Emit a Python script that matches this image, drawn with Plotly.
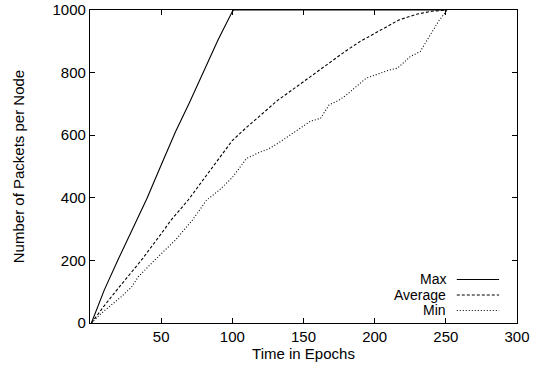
import plotly.graph_objects as go

# Data
max_x = [1, 10, 20, 30, 40, 50, 60, 70, 80, 90, 100, 101, 250]
max_y = [0, 105, 205, 300, 398, 505, 610, 705, 805, 905, 995, 1000, 1000]

avg_x = [1, 10, 20, 36, 50, 57, 69, 80, 90, 100, 110, 120, 132, 140, 150, 160,
         170, 180, 190, 204, 217, 230, 240, 251]
avg_y = [0, 55, 112, 200, 285, 329, 393, 460, 520, 583, 625, 665, 712, 738, 771, 805,
         838, 870, 900, 936, 968, 987, 996, 1000]

min_x = [1, 8, 22, 29, 34, 45, 60, 72, 82, 91, 100, 110, 120, 125, 132, 142, 150, 155,
         162, 168, 175, 180, 187, 194, 204, 210, 216, 220, 225, 232, 239, 245, 251]
min_y = [0, 31, 84, 114, 148, 199, 265, 329, 393, 425, 465, 526, 547, 555, 574, 606, 630, 645,
         654, 697, 712, 728, 755, 782, 798, 808, 814, 830, 851, 867, 920, 965, 1000]

series_names = ["Max", "Average", "Min"]
dashes = ["solid", "3px,2px", "1px,2px"]

x_ticks = [50, 100, 150, 200, 250, 300]
y_ticks = [0, 200, 400, 600, 800, 1000]

FONT = "Liberation Sans, Arial, Helvetica, sans-serif"
FS = 15

fig = go.Figure()
for xs, ys, name, d in zip([max_x, avg_x, min_x], [max_y, avg_y, min_y], series_names, dashes):
    fig.add_trace(go.Scatter(x=xs, y=ys, mode="lines", name=name, showlegend=False,
                             line=dict(color="black", width=1.1, dash=d)))

# Gnuplot-style legend: text right-aligned, line sample to the right
leg_y = [0.139, 0.0895, 0.040]
for name, d, yy in zip(series_names, dashes, leg_y):
    fig.add_annotation(x=0.838, y=yy, xref="paper", yref="paper", text=name,
                       showarrow=False, xanchor="right", yanchor="middle",
                       font=dict(family=FONT, size=14, color="black"))
    fig.add_shape(type="line", xref="paper", yref="paper", x0=0.859, x1=0.958, y0=yy, y1=yy,
                  line=dict(color="black", width=1.1, dash=d))

axis_common = dict(showline=True, linecolor="black", linewidth=1.2, mirror="ticks",
                   ticks="inside", ticklen=5, tickcolor="black", tickwidth=1,
                   showgrid=False, zeroline=False, automargin=False,
                   tickfont=dict(family=FONT, size=FS, color="black"))

fig.update_xaxes(range=[0, 300], tickvals=x_ticks, ticktext=[str(v) for v in x_ticks],
                 title=dict(text="Time in Epochs", font=dict(family=FONT, size=FS, color="black"),
                            standoff=4),
                 **axis_common)
fig.update_yaxes(range=[0, 1000], tickvals=y_ticks, ticktext=[str(v) for v in y_ticks],
                 title=dict(text="Number of Packets per Node",
                            font=dict(family=FONT, size=FS, color="black"), standoff=24),
                 **axis_common)

fig.update_layout(width=536, height=373, plot_bgcolor="white", paper_bgcolor="white",
                  margin=dict(l=90, r=19, t=10, b=50, autoexpand=False),
                  font=dict(family=FONT, size=FS, color="black"))

# remove the default 8px page margin so the figure fills the window exactly
fig.write_html("out.html", config={"displayModeBar": False},
               post_script="document.body.style.margin='0px';")
